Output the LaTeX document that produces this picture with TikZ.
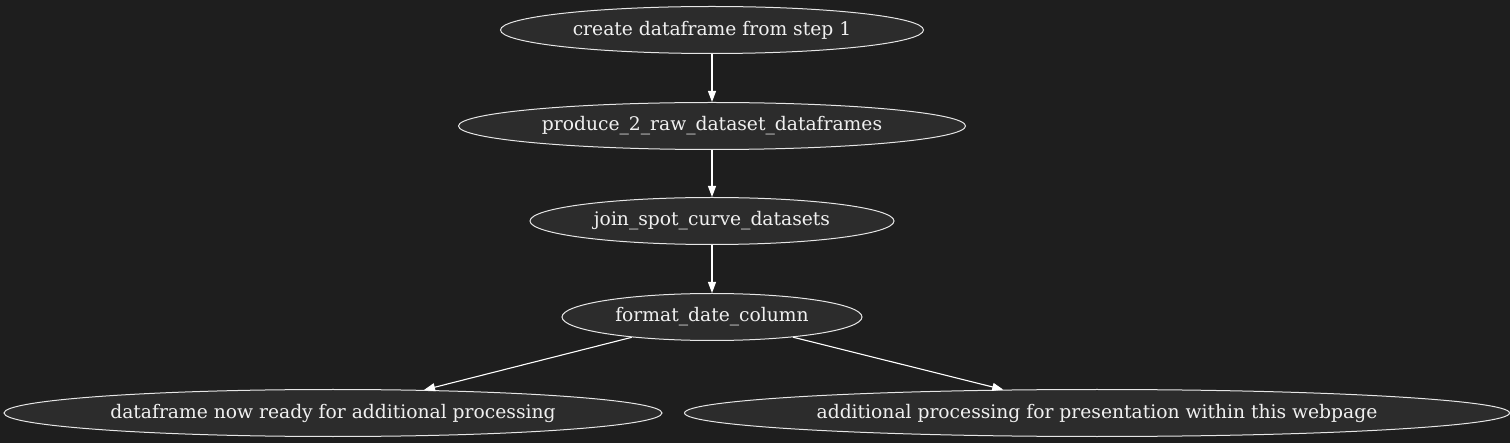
\documentclass[tikz,border=0pt]{standalone}
\usepackage{fontspec}
\setmainfont{DejaVu Serif}
\usetikzlibrary{shapes.geometric,arrows.meta}
\definecolor{pagebg}{HTML}{1E1E1E}
\definecolor{stepfill}{HTML}{2C2C2C}
\definecolor{stepline}{HTML}{E6E6E6}
\definecolor{steptext}{HTML}{F0F0F0}
\begin{document}
\begin{tikzpicture}[x=1pt,y=-1pt, stepnode/.style={ellipse,draw=stepline,fill=stepfill,text=steptext,line width=1pt,inner sep=0pt,minimum height=47pt,font=\fontsize{18.7}{22}\selectfont}, flow/.style={draw=white,line width=1.1pt,-{Triangle[length=11pt,width=8pt]}}]
            \fill[pagebg] (0,0) rectangle (1510,443);
            \useasboundingbox (0,0) rectangle (1510,443);

            \node[stepnode,minimum width=423pt] (create) at (712,30) {create dataframe from step 1};
            \node[stepnode,minimum width=507pt] (produce) at (712,126) {produce\_2\_raw\_dataset\_dataframes};
            \node[stepnode,minimum width=364pt] (join) at (712,221) {join\_spot\_curve\_datasets};
            \node[stepnode,minimum width=300pt] (fmt) at (712,317) {format\_date\_column};
            \node[stepnode,minimum width=658pt] (ready) at (333,413) {dataframe now ready for additional processing};
            \node[stepnode,minimum width=825pt] (present) at (1097,413) {additional processing for presentation within this webpage};

            \draw[flow] (create)--(produce);
            \draw[flow] (produce)--(join);
            \draw[flow] (join)--(fmt);
            \draw[flow] (fmt)--(ready);
            \draw[flow] (fmt)--(present);
        \end{tikzpicture}
\end{document}
